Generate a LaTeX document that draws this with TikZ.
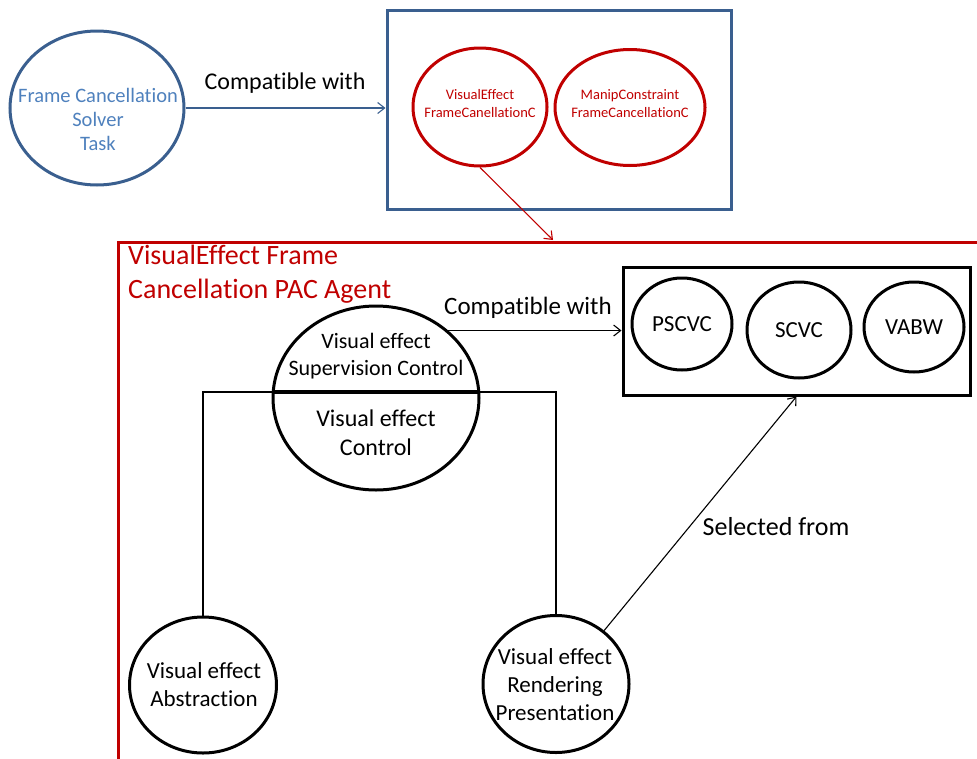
\documentclass[tikz,border=0pt]{standalone}
\usepackage{fontspec}
\setmainfont{Carlito}[Ligatures={NoCommon}]
\usetikzlibrary{arrows.meta,shapes.geometric}
\definecolor{bstroke}{HTML}{3A5F8F}
\definecolor{btext}{HTML}{4F81BD}
\definecolor{dred}{HTML}{C00000}
\begin{document}
\begin{tikzpicture}[x=1pt,y=-1pt,
  oval/.style={ellipse, draw, line width=3pt, inner sep=0pt},
  boxshape/.style={rectangle, draw, line width=3pt, inner sep=0pt},
  tip/.style={-{Straight Barb[length=7pt,width=11pt]}},
  thinline/.style={line width=1.1pt},
  lbl/.style={align=center, inner sep=0pt}]
\useasboundingbox (0,0) rectangle (977,758);
\clip (0,0) rectangle (977,758);

% top-left task
\node[oval, draw=bstroke, minimum width=174pt, minimum height=154pt] (task) at (97,108) {};
\node[lbl, text=btext, font=\fontsize{20.5}{24}\selectfont] (tasktext) at (98,119) {Frame Cancellation\\Solver\\Task};

% top box
\node[boxshape, draw=bstroke, minimum width=344pt, minimum height=199pt] (topbox) at (559,109.5) {};
\node[oval, draw=dred, minimum width=134pt, minimum height=118pt] (vefc) at (480,107) {};
\node[lbl, text=dred, font=\fontsize{14.5}{18}\selectfont] (vefctext) at (480,104) {VisualEffect\\FrameCanellationC};
\node[oval, draw=dred, minimum width=150pt, minimum height=116pt] (mcfc) at (630,107.5) {};
\node[lbl, text=dred, font=\fontsize{14.5}{18}\selectfont] (mcfctext) at (630,104) {ManipConstraint\\FrameCancellationC};

\draw[bstroke, thinline, tip] (task.east) -- (task.east -| topbox.west);
\node[lbl, font=\fontsize{24}{29}\selectfont] (compat1) at (285,83) {Compatible with};

% agent frame
\node[boxshape, draw=dred, anchor=north west, minimum width=900pt, minimum height=560pt] (agent) at (117,241) {};
\node[lbl, text=dred, align=left, anchor=west, font=\fontsize{28}{34}\selectfont] (agenttitle) at (128,274) {VisualEffect Frame\\Cancellation PAC Agent};
\coordinate (agentin) at (553,240);
\draw[dred, thinline, tip] (vefc.south) -- (agentin);

% supervision / control
\node[oval, minimum width=206pt, minimum height=184pt] (sup) at (376,398) {};
\coordinate (dl) at (273,392);
\coordinate (dr) at (479,392);
\draw[line width=4.5pt] (dl) -- (dr);
\node[lbl, font=\fontsize{22}{27}\selectfont] (suptext) at (376,356.5) {Visual effect\\Supervision Control};
\node[lbl, font=\fontsize{24}{29}\selectfont] (ctrltext) at (376,432.5) {Visual effect\\Control};

% right box
\node[boxshape, minimum width=347pt, minimum height=128pt] (pbox) at (796.5,331) {};
\node[oval, minimum width=100pt, minimum height=92pt, font=\fontsize{23}{28}\selectfont] (pscvc) at (682,324) {PSCVC};
\node[oval, minimum width=104pt, minimum height=96pt, font=\fontsize{23}{28}\selectfont] (scvc) at (799,330) {SCVC};
\node[oval, minimum width=100pt, minimum height=90pt, font=\fontsize{23}{28}\selectfont] (vabw) at (914,327) {VABW};

\draw[thinline, tip] (sup.43.5) -- (sup.43.5 -| pbox.west);
\node[lbl, font=\fontsize{25}{30}\selectfont] (compat2) at (528,308) {Compatible with};

% bottom nodes
\node[oval, minimum width=147pt, minimum height=136pt] (abs) at (203,685) {};
\node[lbl, font=\fontsize{23}{27.5}\selectfont] (abstext) at (204,684.5) {Visual effect\\Abstraction};
\node[oval, minimum width=146pt, minimum height=137pt] (rend) at (556,684) {};
\node[lbl, font=\fontsize{23}{28}\selectfont] (rendtext) at (555,685) {Visual effect\\Rendering\\Presentation};

\draw[thinline] (dl) -| (abs.north);
\draw[thinline] (dr) -| (rend.north);

\draw[thinline, tip] (rend.48) -- (pbox.south);
\node[lbl, font=\fontsize{26}{31}\selectfont] (selfrom) at (776,527) {Selected from};
\end{tikzpicture}
\end{document}
